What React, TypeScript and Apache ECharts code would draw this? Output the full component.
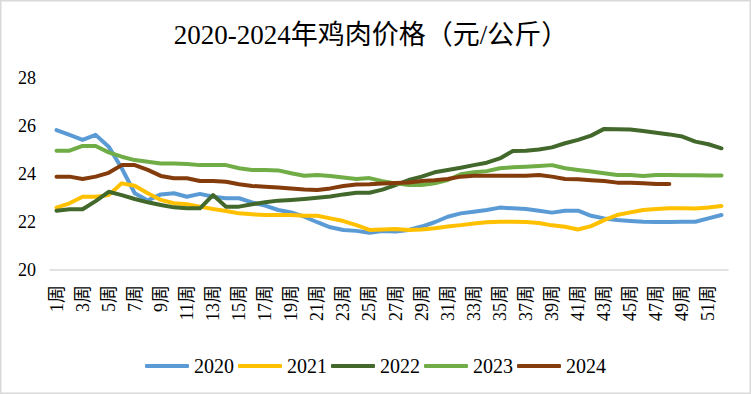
import React, { useEffect, useRef } from "react";
import * as echarts from "echarts";

const weeks: string[] = Array.from({ length: 52 }, (_, i) => `${i + 1}周`);

const s2020 = [25.83, 25.63, 25.42, 25.63, 25.14, 24.24, 23.2, 22.9, 23.15, 23.2, 23.05, 23.17, 23.05, 22.99, 22.99, 22.82, 22.68, 22.5, 22.4, 22.22, 21.99, 21.78, 21.67, 21.63, 21.55, 21.62, 21.6, 21.67, 21.81, 21.99, 22.22, 22.36, 22.43, 22.5, 22.6, 22.57, 22.54, 22.47, 22.39, 22.47, 22.47, 22.26, 22.15, 22.08, 22.04, 22.01, 22.0, 22.0, 22.01, 22.01, 22.15, 22.29];
const s2021 = [22.6, 22.78, 23.05, 23.05, 23.12, 23.61, 23.51, 23.2, 22.92, 22.78, 22.74, 22.64, 22.54, 22.46, 22.36, 22.32, 22.29, 22.29, 22.29, 22.26, 22.26, 22.15, 22.04, 21.87, 21.67, 21.69, 21.71, 21.67, 21.69, 21.74, 21.81, 21.87, 21.94, 21.99, 22.01, 22.01, 22.0, 21.96, 21.86, 21.8, 21.69, 21.83, 22.08, 22.29, 22.4, 22.5, 22.54, 22.57, 22.57, 22.56, 22.6, 22.67];
const s2022 = [22.47, 22.53, 22.53, 22.87, 23.26, 23.12, 22.96, 22.82, 22.71, 22.61, 22.57, 22.57, 23.12, 22.64, 22.64, 22.74, 22.82, 22.89, 22.92, 22.96, 23.01, 23.06, 23.15, 23.22, 23.22, 23.35, 23.54, 23.75, 23.89, 24.07, 24.17, 24.26, 24.37, 24.47, 24.65, 24.96, 24.97, 25.02, 25.11, 25.28, 25.42, 25.6, 25.88, 25.86, 25.85, 25.79, 25.72, 25.65, 25.56, 25.35, 25.24, 25.07];
const s2023 = [24.97, 24.97, 25.17, 25.17, 24.9, 24.72, 24.58, 24.51, 24.44, 24.44, 24.42, 24.37, 24.38, 24.37, 24.24, 24.17, 24.17, 24.15, 24.03, 23.93, 23.96, 23.92, 23.85, 23.79, 23.83, 23.7, 23.61, 23.54, 23.54, 23.61, 23.75, 23.99, 24.07, 24.12, 24.24, 24.28, 24.3, 24.33, 24.37, 24.24, 24.17, 24.1, 24.03, 23.96, 23.96, 23.92, 23.96, 23.96, 23.95, 23.95, 23.94, 23.94];
const s2024 = [23.89, 23.89, 23.79, 23.89, 24.05, 24.37, 24.37, 24.17, 23.92, 23.82, 23.82, 23.71, 23.71, 23.68, 23.57, 23.5, 23.47, 23.44, 23.4, 23.35, 23.33, 23.4, 23.5, 23.56, 23.57, 23.6, 23.62, 23.65, 23.71, 23.74, 23.79, 23.89, 23.93, 23.93, 23.93, 23.93, 23.93, 23.96, 23.89, 23.79, 23.78, 23.74, 23.71, 23.64, 23.64, 23.61, 23.58, 23.58];

const seriesNames = ["2020", "2021", "2022", "2023", "2024"];
const seriesData = [s2020, s2021, s2022, s2023, s2024];
const colors = ["#5B9BD5", "#FFC000", "#43682B", "#70AD47", "#843C0C"];

const titleText = "2020-2024年鸡肉价格（元/公斤）";
const FONT = "'Liberation Serif', 'Times New Roman', 'Noto Sans CJK SC', serif";

export default function App() {
  const ref = useRef<HTMLDivElement>(null);
  useEffect(() => {
    document.body.style.margin = "0";
    if (!ref.current) return;
    const chart = echarts.init(ref.current, undefined, { renderer: "svg" });
    chart.setOption({
      animation: false,
      backgroundColor: "#ffffff",
      color: colors,
      title: {
        text: titleText,
        left: 366,
        textAlign: "center",
        top: 16,
        textStyle: { fontFamily: FONT, fontSize: 27, fontWeight: "normal", color: "#000" },
      },
      graphic: [
        {
          type: "rect",
          shape: { x: 0.75, y: 0.75, width: 749.5, height: 392.5 },
          style: { fill: "none", stroke: "#d9d9d9", lineWidth: 1.5 },
          silent: true,
        },
      ],
      legend: {
        top: 351,
        left: "center",
        icon: "roundRect",
        itemWidth: 44,
        itemHeight: 4,
        itemGap: 4,
        textStyle: { fontFamily: FONT, fontSize: 20, color: "#000" },
        data: seriesNames,
      },
      grid: { left: 50, right: 23, top: 78, bottom: 124, containLabel: false },
      xAxis: {
        type: "category",
        data: weeks,
        boundaryGap: true,
        axisLine: { show: true, lineStyle: { color: "#d9d9d9", width: 1.5 } },
        axisTick: { show: false },
        axisLabel: {
          interval: 1,
          rotate: 90,
          margin: 15,
          fontFamily: FONT,
          fontSize: 18,
          color: "#000",
        },
        splitLine: { show: false },
      },
      yAxis: {
        type: "value",
        min: 20,
        max: 28,
        interval: 2,
        axisLine: { show: false },
        axisTick: { show: false },
        splitLine: { show: false },
        axisLabel: { fontFamily: FONT, fontSize: 18, color: "#000", margin: 14 },
      },
      series: seriesNames.map((name, i) => ({
        name,
        type: "line",
        data: seriesData[i],
        symbol: "none",
        smooth: false,
        lineStyle: { width: 4, color: colors[i], cap: "round", join: "round" },
        itemStyle: { color: colors[i] },
      })),
    });
    return () => chart.dispose();
  }, []);
  return <div ref={ref} style={{ width: 751, height: 394 }} />;
}
